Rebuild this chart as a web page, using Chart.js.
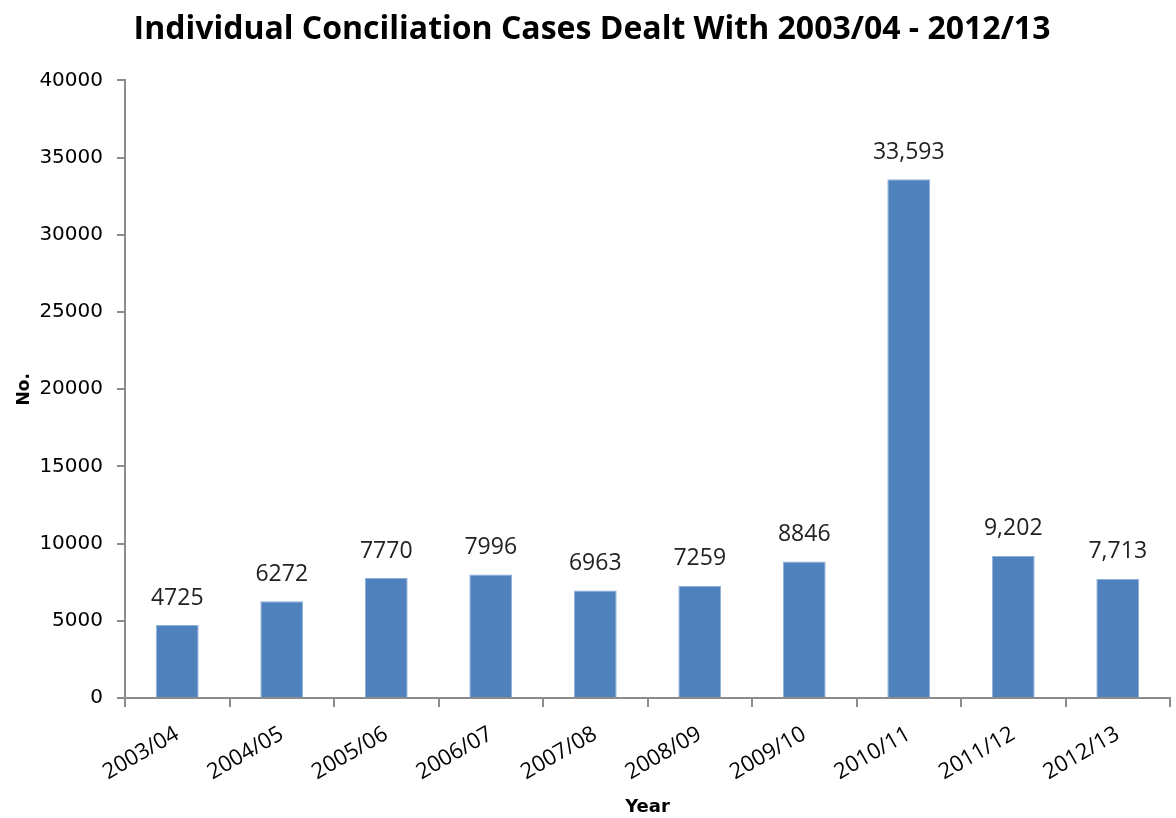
<!DOCTYPE html>
<html>
<head>
<meta charset="utf-8">
<title>Individual Conciliation Cases</title>
<script src="https://cdn.jsdelivr.net/npm/chart.js@4.4.1/dist/chart.umd.min.js"></script>
<style>
  html, body { margin: 0; padding: 0; background: #fff; }
  #wrap { width: 1176px; height: 818px; }
</style>
</head>
<body>
<div id="wrap"><canvas id="chart" width="1176" height="818"></canvas></div>
<script>
var years = ['2003/04', '2004/05', '2005/06', '2006/07', '2007/08', '2008/09', '2009/10', '2010/11', '2011/12', '2012/13'],
    cases = [4725, 6272, 7770, 7996, 6963, 7259, 8846, 33593, 9202, 7713],
    caseLabels = ['4725', '6272', '7770', '7996', '6963', '7259', '8846', '33,593', '9,202', '7,713'];

// writes the value text above each bar
var barLabels = {
    id: 'barLabels',
    afterDatasetsDraw: function(chart) {
        var ctx = chart.ctx,
            meta = chart.getDatasetMeta(0);
        ctx.save();
        ctx.font = '23px "Open Sans"';
        ctx.fillStyle = '#222';
        ctx.textAlign = 'center';
        ctx.textBaseline = 'middle';
        meta.data.forEach(function(bar, i) {
            ctx.fillText(caseLabels[i], bar.x, bar.y - 27);
        });
        ctx.restore();
    }
};

var axisColor = '#8c8c8c';

new Chart(document.getElementById('chart'), {
    type: 'bar',
    data: {
        labels: years,
        datasets: [{
            data: cases,
            backgroundColor: '#4f81bd',
            borderColor: '#8fb0d8',
            borderWidth: 1,
            categoryPercentage: 1,
            barPercentage: 0.41
        }]
    },
    options: {
        responsive: false,
        animation: false,
        layout: { padding: { left: 14, right: 6, top: 0, bottom: 0 } },
        plugins: {
            legend: { display: false },
            tooltip: { enabled: false },
            title: {
                display: true,
                text: 'Individual Conciliation Cases Dealt With 2003/04 - 2012/13',
                color: '#000',
                font: { family: '"Open Sans"', size: 32, weight: 'bold' },
                padding: { top: 11, bottom: 31 }
            }
        },
        scales: {
            x: {
                afterFit: function(scale) { scale.height = 120; },
                grid: {
                    drawOnChartArea: false,
                    color: axisColor,
                    tickLength: 9,
                    lineWidth: 2
                },
                border: { color: axisColor, width: 2 },
                ticks: {
                    color: '#000',
                    font: { family: '"Open Sans"', size: 22 },
                    maxRotation: 30,
                    minRotation: 30,
                    padding: 14
                },
                title: {
                    display: true,
                    text: 'Year',
                    color: '#000',
                    font: { family: '"DejaVu Sans"', size: 18, weight: 'bold' },
                    padding: { top: 0, bottom: 0 }
                }
            },
            y: {
                min: 0,
                max: 40000,
                afterFit: function(scale) { scale.width = 111; },
                grid: {
                    drawOnChartArea: false,
                    color: axisColor,
                    tickLength: 8,
                    lineWidth: 2
                },
                border: { color: axisColor, width: 2 },
                ticks: {
                    stepSize: 5000,
                    color: '#000',
                    font: { family: '"DejaVu Sans"', size: 20 },
                    padding: 14,
                    callback: function(v) { return String(v); }
                },
                title: {
                    display: true,
                    text: 'No.',
                    color: '#000',
                    font: { family: '"DejaVu Sans"', size: 17, weight: 'bold' },
                    padding: { top: 0, bottom: 0 }
                }
            }
        }
    },
    plugins: [barLabels]
});
</script>
</body>
</html>
